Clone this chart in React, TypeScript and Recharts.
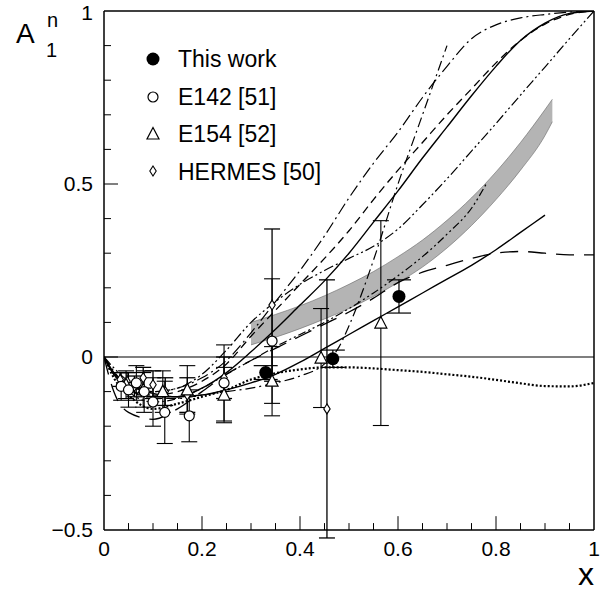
import React from 'react';
import { ComposedChart, Line, Area, Scatter, XAxis, YAxis, ReferenceLine, ErrorBar } from 'recharts';

// ---------- data ----------
const xGrid = [0, 0.02, 0.05, 0.1, 0.15, 0.2, 0.25, 0.3, 0.35, 0.4, 0.45, 0.5, 0.55, 0.6, 0.65, 0.7, 0.75, 0.8, 0.85, 0.9, 0.95, 1];
const solidAY = [0, -0.05, -0.09, -0.115, -0.115, -0.09, -0.045, 0.015, 0.08, 0.15, 0.22, 0.3, 0.39, 0.48, 0.575, 0.665, 0.755, 0.84, 0.915, 0.965, 0.993, 1.0];
const dashAY = [0, -0.05, -0.09, -0.11, -0.1, -0.07, -0.02, 0.06, 0.135, 0.21, 0.285, 0.365, 0.455, 0.54, 0.62, 0.7, 0.775, 0.85, 0.915, 0.962, 0.99, 1.0];
const dottedY = [0, -0.06, -0.11, -0.15, -0.135, -0.115, -0.095, -0.065, -0.047, -0.036, -0.03, -0.03, -0.033, -0.038, -0.043, -0.05, -0.057, -0.066, -0.076, -0.084, -0.085, -0.075];
const longDashY = [0, -0.1, -0.16, -0.18, -0.15, -0.1, -0.05, -0.01, 0.025, 0.06, 0.095, 0.13, 0.17, 0.215, 0.245, 0.265, 0.285, 0.3, 0.305, 0.3, 0.295, 0.295];
const concaveY = [0, -0.05, -0.08, -0.1, -0.09, -0.06, -0.01, 0.07, 0.16, 0.25, 0.35, 0.46, 0.56, 0.65, 0.75, 0.84, 0.92, 0.96, 0.98, 0.99, 0.997, 1.0];

const solidBX = [0, 0.02, 0.05, 0.1, 0.15, 0.2, 0.25, 0.3, 0.35, 0.4, 0.45, 0.5, 0.55, 0.6, 0.65, 0.7, 0.75, 0.8, 0.85, 0.9];
const solidBY = [0, -0.045, -0.08, -0.105, -0.115, -0.11, -0.095, -0.075, -0.05, -0.015, 0.025, 0.065, 0.105, 0.145, 0.185, 0.225, 0.265, 0.31, 0.36, 0.41];

const steepX = [0, 0.05, 0.1, 0.15, 0.2, 0.25, 0.3, 0.35, 0.4, 0.45, 0.48, 0.5, 0.55, 0.6, 0.65, 0.7];
const steepY = [0, -0.09, -0.12, -0.12, -0.11, -0.1, -0.09, -0.075, -0.055, -0.02, 0.03, 0.09, 0.28, 0.5, 0.7, 0.9];

const ddEX = [0, 0.05, 0.1, 0.15, 0.2, 0.25, 0.3, 0.35, 0.4, 0.45, 0.5, 0.55, 0.6, 0.65, 0.7, 0.75, 0.8, 0.85, 0.9, 0.95, 1];
const ddEY = [0, -0.07, -0.1, -0.09, -0.05, 0.02, 0.1, 0.16, 0.21, 0.25, 0.285, 0.32, 0.37, 0.44, 0.515, 0.595, 0.675, 0.757, 0.838, 0.92, 1.0];

const ddFX = [0, 0.05, 0.1, 0.15, 0.2, 0.25, 0.3, 0.35, 0.4, 0.45, 0.5, 0.55, 0.6, 0.65, 0.7, 0.75, 0.78];
const ddFY = [0, -0.1, -0.13, -0.12, -0.09, -0.05, -0.01, 0.03, 0.065, 0.1, 0.14, 0.185, 0.235, 0.29, 0.355, 0.43, 0.5];

const bandX = [0.3, 0.35, 0.4, 0.45, 0.5, 0.55, 0.6, 0.65, 0.7, 0.75, 0.8, 0.85, 0.9, 0.915];
const bandLow = [0.035, 0.057, 0.082, 0.11, 0.14, 0.175, 0.215, 0.26, 0.315, 0.38, 0.455, 0.54, 0.64, 0.68];
const bandHigh = [0.10, 0.123, 0.148, 0.177, 0.21, 0.247, 0.29, 0.338, 0.395, 0.46, 0.535, 0.62, 0.715, 0.745];

const thisWorkX = [0.33, 0.467, 0.602];
const thisWorkY = [-0.045, -0.005, 0.175];
const thisWorkE = [0.02, 0.025, 0.048];

const e142X = [0.035, 0.05, 0.066, 0.082, 0.1, 0.124, 0.174, 0.245, 0.343];
const e142Y = [-0.085, -0.095, -0.075, -0.1, -0.13, -0.16, -0.17, -0.075, 0.046];
const e142E = [0.04, 0.05, 0.05, 0.06, 0.07, 0.09, 0.075, 0.11, 0.18];

const e154X = [0.045, 0.08, 0.12, 0.17, 0.245, 0.343, 0.443, 0.565];
const e154Y = [-0.08, -0.095, -0.1, -0.095, -0.11, -0.07, -0.003, 0.098];
const e154E = [0.04, 0.05, 0.06, 0.07, 0.08, 0.1, 0.143, 0.296];

const hermesX = [0.033, 0.047, 0.062, 0.08, 0.1, 0.125, 0.17, 0.245, 0.343, 0.455];
const hermesY = [-0.065, -0.07, -0.085, -0.06, -0.08, -0.1, -0.11, -0.06, 0.15, -0.15];
const hermesE = [0.02, 0.025, 0.03, 0.03, 0.04, 0.04, 0.05, 0.06, 0.22, 0.373];

const xTicks = [0, 0.2, 0.4, 0.6, 0.8, 1];
const yTicks = [-0.5, 0, 0.5, 1];
const xMinor = [0.05, 0.1, 0.15, 0.25, 0.3, 0.35, 0.45, 0.5, 0.55, 0.65, 0.7, 0.75, 0.85, 0.9, 0.95];
const xMajor = [0.2, 0.4, 0.6, 0.8];
const yMinor = [-0.4, -0.3, -0.2, -0.1, 0.1, 0.2, 0.3, 0.4, 0.6, 0.7, 0.8, 0.9];
const yMajor = [0, 0.5];

// ---------- helpers ----------
const zip = (xs: number[], ys: number[]) => xs.map((x, i) => ({ x, y: ys[i] }));
const zipE = (xs: number[], ys: number[], es: number[]) => xs.map((x, i) => ({ x, y: ys[i], e: es[i] }));

const solidA = zip(xGrid, solidAY);
const dashA = zip(xGrid, dashAY);
const dotted = zip(xGrid, dottedY);
const longDash = zip(xGrid, longDashY);
const concave = zip(xGrid, concaveY);
const solidB = zip(solidBX, solidBY);
const steep = zip(steepX, steepY);
const ddE = zip(ddEX, ddEY);
const ddF = zip(ddFX, ddFY);
const band = bandX.map((x, i) => ({ x, range: [bandLow[i], bandHigh[i]] }));

const thisWork = zipE(thisWorkX, thisWorkY, thisWorkE);
const e142 = zipE(e142X, e142Y, e142E);
const e154 = zipE(e154X, e154Y, e154E);
const hermes = zipE(hermesX, hermesY, hermesE);

const FONT = '"Liberation Sans", Arial, Helvetica, sans-serif';

const FilledCircle = (p: any) => <circle cx={p.cx} cy={p.cy} r={6.5} fill="#000" />;
const OpenCircle = (p: any) => <circle cx={p.cx} cy={p.cy} r={5} fill="#fff" stroke="#000" strokeWidth={1.2} />;
const Triangle = (p: any) => (
  <path d={`M${p.cx},${p.cy - 6.5}L${p.cx - 6},${p.cy + 5}L${p.cx + 6},${p.cy + 5}Z`} fill="#fff" stroke="#000" strokeWidth={1.2} />
);
const Diamond = (p: any) => (
  <path d={`M${p.cx},${p.cy - 5}L${p.cx + 3.2},${p.cy}L${p.cx},${p.cy + 5}L${p.cx - 3.2},${p.cy}Z`} fill="#fff" stroke="#000" strokeWidth={1.1} />
);

const fmt = (v: number) => (v < 0 ? '\u2212' + String(-v) : String(v));

const lineCommon = { dot: false, activeDot: false, isAnimationActive: false, dataKey: 'y', type: 'monotone' as const, stroke: '#000', legendType: 'none' as const };

export default function App() {
  return (
    <div style={{ position: 'absolute', left: 0, top: 0, width: 607, height: 594, background: '#fff' }}>
      <ComposedChart width={607} height={594} margin={{ top: 11, right: 13, bottom: 0, left: 0 }}>
        <XAxis
          type="number"
          dataKey="x"
          domain={[0, 1]}
          ticks={xTicks}
          allowDataOverflow
          height={64}
          axisLine={{ stroke: '#000', strokeWidth: 1.5 }}
          tickLine={false}
          tickSize={0}
          tickMargin={11}
          tick={{ fontSize: 21, fill: '#000', fontFamily: FONT }}
          tickFormatter={fmt}
        />
        <YAxis
          type="number"
          domain={[-0.5, 1]}
          ticks={yTicks}
          allowDataOverflow
          width={104}
          axisLine={{ stroke: '#000', strokeWidth: 1.5 }}
          tickLine={false}
          tickSize={0}
          tickMargin={11}
          tick={{ fontSize: 21, fill: '#000', fontFamily: FONT }}
          tickFormatter={fmt}
        />
        <ReferenceLine y={1} stroke="#000" strokeWidth={1.5} />
        <ReferenceLine x={1} stroke="#000" strokeWidth={1.5} />
        <ReferenceLine y={0} stroke="#000" strokeWidth={1.1} />
        {xMinor.map((t) => (
          <ReferenceLine key={'xm' + t} segment={[{ x: t, y: -0.5 }, { x: t, y: -0.48 }]} stroke="#000" strokeWidth={1} />
        ))}
        {xMajor.map((t) => (
          <ReferenceLine key={'xM' + t} segment={[{ x: t, y: -0.5 }, { x: t, y: -0.46 }]} stroke="#000" strokeWidth={1} />
        ))}
        {yMinor.map((t) => (
          <ReferenceLine key={'ym' + t} segment={[{ x: 0, y: t }, { x: 0.0143, y: t }]} stroke="#000" strokeWidth={1} />
        ))}
        {yMajor.map((t) => (
          <ReferenceLine key={'yM' + t} segment={[{ x: 0, y: t }, { x: 0.0286, y: t }]} stroke="#000" strokeWidth={1} />
        ))}

        <Area data={band} dataKey="range" type="monotone" fill="#b4b4b4" fillOpacity={1} stroke="#666" strokeWidth={0.6} isAnimationActive={false} legendType="none" activeDot={false} />

        <Line {...lineCommon} data={solidA} strokeWidth={1.4} />
        <Line {...lineCommon} data={solidB} strokeWidth={1.4} />
        <Line {...lineCommon} data={dashA} strokeWidth={1.3} strokeDasharray="8 5" />
        <Line {...lineCommon} data={dotted} strokeWidth={2.2} strokeDasharray="2 2" />
        <Line {...lineCommon} data={longDash} strokeWidth={1.3} strokeDasharray="18 10" />
        <Line {...lineCommon} data={concave} strokeWidth={1.2} strokeDasharray="12 4 2 4" />
        <Line {...lineCommon} data={steep} strokeWidth={1.2} strokeDasharray="10 4 2 4" />
        <Line {...lineCommon} data={ddE} strokeWidth={1.2} strokeDasharray="10 3 2 3 2 3" />
        <Line {...lineCommon} data={ddF} strokeWidth={1.2} strokeDasharray="8 3 2 3 2 3" />

        <Scatter data={hermes} dataKey="y" shape={Diamond} isAnimationActive={false} legendType="none">
          <ErrorBar dataKey="e" direction="y" width={8} stroke="#000" strokeWidth={1.3} />
        </Scatter>
        <Scatter data={e154} dataKey="y" shape={Triangle} isAnimationActive={false} legendType="none">
          <ErrorBar dataKey="e" direction="y" width={8} stroke="#000" strokeWidth={1.1} />
        </Scatter>
        <Scatter data={e142} dataKey="y" shape={OpenCircle} isAnimationActive={false} legendType="none">
          <ErrorBar dataKey="e" direction="y" width={8} stroke="#000" strokeWidth={1.1} />
        </Scatter>
        <Scatter data={thisWork} dataKey="y" shape={FilledCircle} isAnimationActive={false} legendType="none">
          <ErrorBar dataKey="e" direction="y" width={12} stroke="#000" strokeWidth={1.2} />
        </Scatter>
      </ComposedChart>

      <svg width={607} height={594} style={{ position: 'absolute', left: 0, top: 0, pointerEvents: 'none' }}>
        <g fontFamily={FONT} fill="#000">
          <text x={16} y={43} fontSize={28}>A</text>
          <text x={47} y={27} fontSize={20}>n</text>
          <text x={46} y={57} fontSize={20}>1</text>
          <text x={594} y={585} fontSize={32} textAnchor="end">x</text>

          <FilledCircle cx={153} cy={59} />
          <OpenCircle cx={153} cy={97} />
          <Triangle cx={153} cy={134} />
          <Diamond cx={153} cy={171} />
          <text x={178} y={67} fontSize={23}>This work</text>
          <text x={178} y={105} fontSize={23}>E142 [51]</text>
          <text x={178} y={142} fontSize={23}>E154 [52]</text>
          <text x={178} y={180} fontSize={23}>HERMES [50]</text>
        </g>
      </svg>
    </div>
  );
}
